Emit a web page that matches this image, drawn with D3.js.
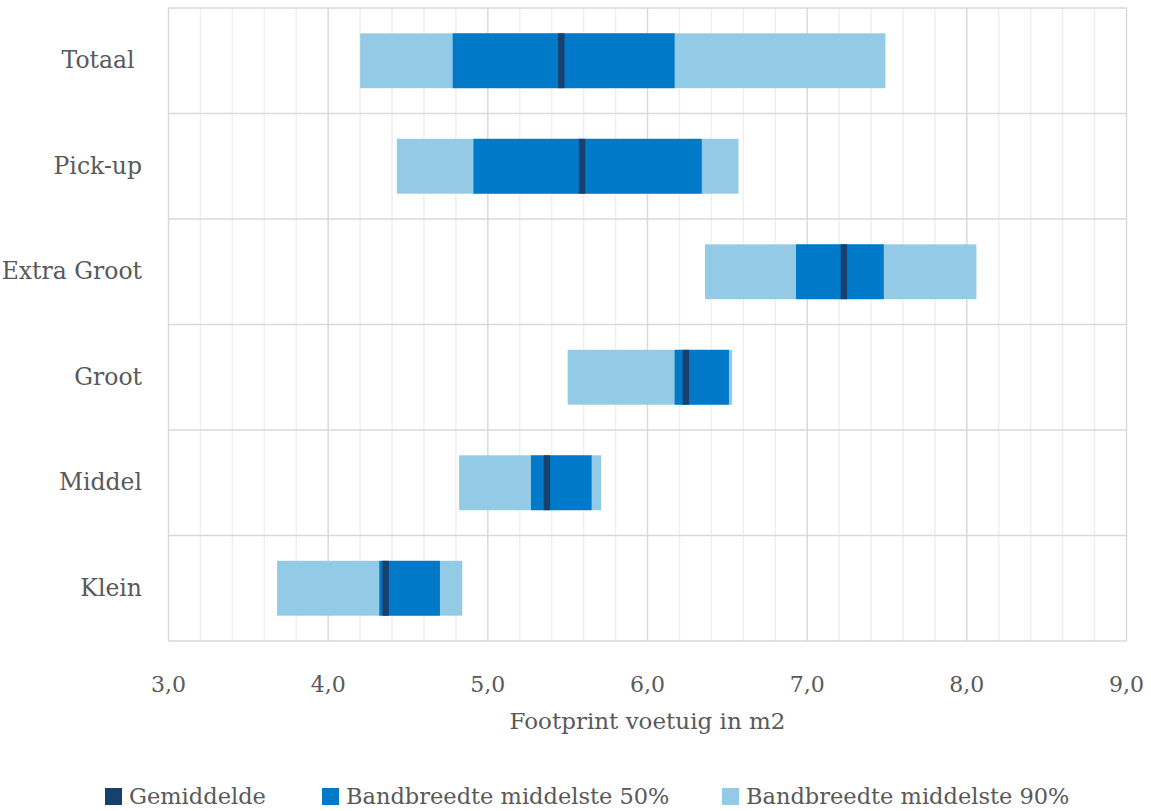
<!DOCTYPE html>
<html>
<head>
<meta charset="utf-8">
<script src="https://cdn.jsdelivr.net/npm/d3@7/dist/d3.min.js"></script>
<style>
  html, body { margin: 0; padding: 0; background: #fff; }
  svg { display: block; }
  text { font-family: "DejaVu Serif", "Liberation Serif", serif; fill: #595959; white-space: pre; }
</style>
</head>
<body>
<svg id="chart" width="1151" height="811"></svg>
<script>
const categories = ["Totaal ", "Pick-up", "Extra Groot", "Groot", "Middel", "Klein"];
const p5  = [4.20, 4.43, 6.36, 5.50, 4.82, 3.68];
const p95 = [7.49, 6.57, 8.06, 6.53, 5.71, 4.84];
const p25 = [4.78, 4.91, 6.93, 6.17, 5.27, 4.32];
const p75 = [6.17, 6.34, 7.48, 6.51, 5.65, 4.70];
const mean = [5.46, 5.59, 7.23, 6.24, 5.37, 4.36];
const xTicks = [3, 4, 5, 6, 7, 8, 9];
const xTickLabels = ["3,0", "4,0", "5,0", "6,0", "7,0", "8,0", "9,0"];
const axisTitle = "Footprint voetuig in m2";
const legendLabels = ["Gemiddelde", "Bandbreedte middelste 50%", "Bandbreedte middelste 90%"];

const colMean = "#17406D", col50 = "#0079C8", col90 = "#93CBE7";

const svg = d3.select("#chart");
const pLeft = 168.5, pRight = 1126.5, pTop = 8, pBottom = 641;

const x = d3.scaleLinear().domain([3, 9]).range([pLeft, pRight]);
const y = d3.scaleBand().domain(categories).range([pTop, pBottom]).paddingInner(0).paddingOuter(0);
const barH = y.bandwidth() * 0.52;

// minor gridlines
const minor = d3.range(3, 9.0001, 0.2).filter(v => Math.abs(v - Math.round(v)) > 1e-6);
svg.append("g").selectAll("line").data(minor).join("line")
  .attr("x1", d => x(d)).attr("x2", d => x(d))
  .attr("y1", pTop).attr("y2", pBottom)
  .attr("stroke", "#efefef").attr("stroke-width", 1.5);

// major vertical gridlines
svg.append("g").selectAll("line").data(xTicks).join("line")
  .attr("x1", d => x(d)).attr("x2", d => x(d))
  .attr("y1", pTop).attr("y2", pBottom)
  .attr("stroke", "#d9d9d9").attr("stroke-width", 1.5);

// horizontal category separators
const seps = categories.map(c => y(c)).concat([pBottom]);
svg.append("g").selectAll("line").data(seps).join("line")
  .attr("x1", pLeft).attr("x2", pRight)
  .attr("y1", d => d).attr("y2", d => d)
  .attr("stroke", "#d9d9d9").attr("stroke-width", 1.5);

const rows = categories.map((c, i) => ({c, p5: p5[i], p95: p95[i], p25: p25[i], p75: p75[i], mean: mean[i]}));
const yc = d => y(d.c) + y.bandwidth() / 2;

svg.append("g").selectAll("rect").data(rows).join("rect")
  .attr("x", d => x(d.p5)).attr("width", d => x(d.p95) - x(d.p5))
  .attr("y", d => yc(d) - barH / 2).attr("height", barH)
  .attr("fill", col90);

svg.append("g").selectAll("rect").data(rows).join("rect")
  .attr("x", d => x(d.p25)).attr("width", d => x(d.p75) - x(d.p25))
  .attr("y", d => yc(d) - barH / 2).attr("height", barH)
  .attr("fill", col50);

svg.append("g").selectAll("rect").data(rows).join("rect")
  .attr("x", d => x(d.mean) - 3.2).attr("width", 6.4)
  .attr("y", d => yc(d) - barH / 2).attr("height", barH)
  .attr("fill", colMean);

// category labels
svg.append("g").selectAll("text").data(rows).join("text")
  .attr("x", 142).attr("y", d => yc(d) - 1)
  .attr("dy", "0.36em")
  .attr("text-anchor", "end")
  .attr("font-size", 23.5)
  .text(d => d.c);

// x tick labels
svg.append("g").selectAll("text").data(xTicks).join("text")
  .attr("x", d => x(d)).attr("y", 692)
  .attr("text-anchor", "middle")
  .attr("font-size", 22)
  .text((d, i) => xTickLabels[i]);

svg.append("text")
  .attr("x", (pLeft + pRight) / 2).attr("y", 729)
  .attr("text-anchor", "middle")
  .attr("font-size", 23)
  .text(axisTitle);

// legend
const legendX = [105, 322, 722];
const legendCols = [colMean, col50, col90];
const lg = svg.append("g");
legendLabels.forEach((t, i) => {
  lg.append("rect").attr("x", legendX[i]).attr("y", 788).attr("width", 17).attr("height", 17).attr("fill", legendCols[i]);
  lg.append("text").attr("x", legendX[i] + 24).attr("y", 804).attr("font-size", 22.5).text(t);
});
</script>
</body>
</html>
